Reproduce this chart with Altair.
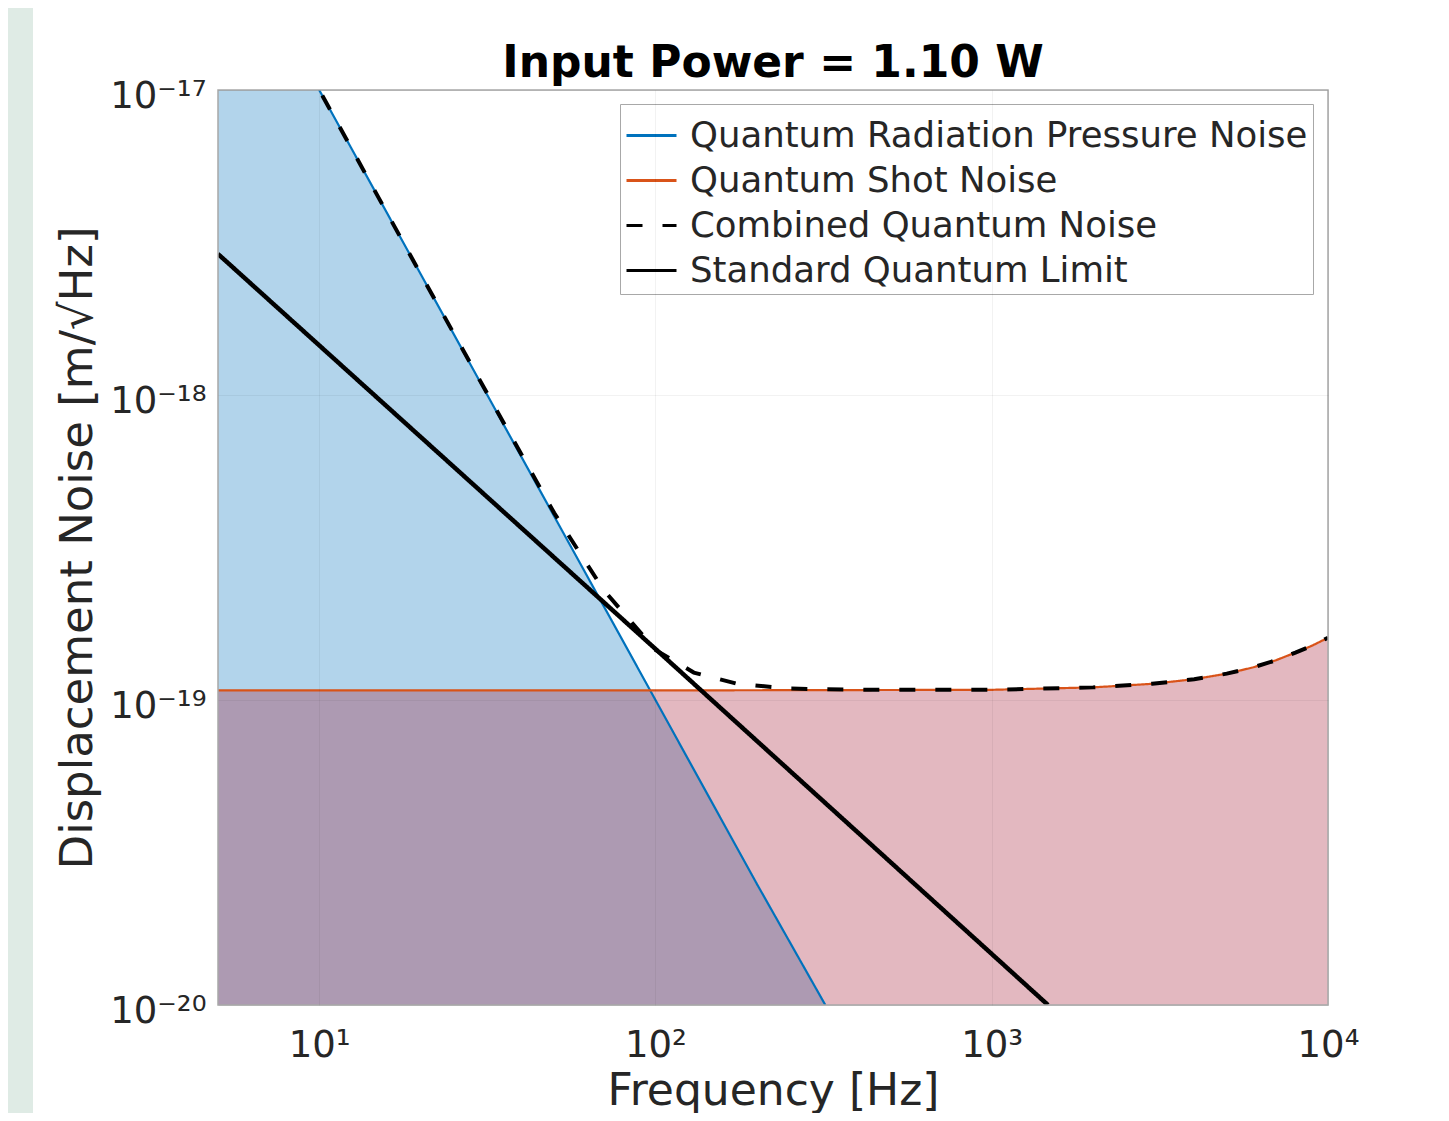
import altair as alt
import pandas as pd

# ---- data ----
freq_rp = [5, 10, 30, 100, 200, 320]
rp_noise = [4.0e-17, 1.0e-17, 1.11e-18, 1.0e-19, 2.5e-20, 1.0e-20]

freq_shot = [5, 10, 100, 1000, 2000, 3000, 4000, 5000, 6000, 7000, 8000, 9000, 10000]
shot_noise = [1.075e-19, 1.075e-19, 1.075e-19, 1.08e-19, 1.10e-19, 1.13e-19, 1.17e-19,
              1.22e-19, 1.28e-19, 1.35e-19, 1.43e-19, 1.51e-19, 1.60e-19]

freq_comb = [5, 10, 20, 30, 50, 70, 100, 130, 175, 250, 400, 1000, 2000, 3000, 4000,
             5000, 6000, 7000, 8000, 9000, 10000]
comb_noise = [4.0e-17, 1.0e-17, 2.5e-18, 1.12e-18, 4.1e-19, 2.3e-19, 1.46e-19, 1.23e-19,
              1.13e-19, 1.09e-19, 1.08e-19, 1.08e-19, 1.10e-19, 1.13e-19, 1.17e-19,
              1.22e-19, 1.28e-19, 1.35e-19, 1.43e-19, 1.51e-19, 1.60e-19]

freq_sql = [5, 100, 1470]
sql_noise = [2.9e-18, 1.47e-19, 1.0e-20]

series_names = ["Quantum Radiation Pressure Noise", "Quantum Shot Noise",
                "Combined Quantum Noise", "Standard Quantum Limit"]
series_colors = ["#0072BD", "#D95319", "#000000", "#000000"]
series_dashes = [[1, 0], [1, 0], [16, 20], [1, 0]]
series_widths = [2.2, 2.2, 4, 4.5]
x_ticks = [10, 100, 1000, 10000]
y_ticks = [1e-20, 1e-19, 1e-18, 1e-17]
y_floor = 1e-20

rows = []
for fs, vs, name in [(freq_rp, rp_noise, series_names[0]),
                     (freq_shot, shot_noise, series_names[1]),
                     (freq_comb, comb_noise, series_names[2]),
                     (freq_sql, sql_noise, series_names[3])]:
    for f, v in zip(fs, vs):
        rows.append({"f": f, "v": v, "series": name})
lines_df = pd.DataFrame(rows)
rp_df = pd.DataFrame({"f": freq_rp, "v": rp_noise})
shot_df = pd.DataFrame({"f": freq_shot, "v": shot_noise})
one = pd.DataFrame({"a": [0]})

W, H = 1110, 915
PAD_TOP = 82
FONT = "DejaVu Sans"

xscale = alt.Scale(type="log", domain=[5, 10000], nice=False)
yscale = alt.Scale(type="log", domain=[1e-20, 1e-17], nice=False)

xaxis = alt.Axis(values=x_ticks,
                 labelExpr="datum.value < 50 ? '10¹' : datum.value < 500 ? '10²' : datum.value < 5000 ? '10³' : '10⁴'",
                 title="Frequency [Hz]", ticks=False, domain=False, grid=True,
                 gridColor="#000000", gridOpacity=0.05, labelFontSize=37, labelPadding=22,
                 labelColor="#262626", titleFontSize=44, titleFontWeight="normal",
                 titleColor="#262626", titlePadding=6, labelFont=FONT, titleFont=FONT,
                 zindex=1, labelFlush=False)
yaxis = alt.Axis(values=y_ticks,
                 labelExpr="datum.value < 5e-20 ? '10⁻²⁰' : datum.value < 5e-19 ? '10⁻¹⁹' : datum.value < 5e-18 ? '10⁻¹⁸' : '10⁻¹⁷'",
                 title="Displacement Noise [m/√Hz]", ticks=False, domain=False, grid=True,
                 gridColor="#000000", gridOpacity=0.05, labelFontSize=37, labelPadding=12,
                 labelOffset=6,
                 labelColor="#262626", titleFontSize=45, titleFontWeight="normal",
                 titleColor="#262626", titlePadding=9, labelFont=FONT, titleFont=FONT,
                 zindex=1, labelFlush=False)

X = alt.X("f:Q", scale=xscale, axis=xaxis)
Y = alt.Y("v:Q", scale=yscale, axis=yaxis)

panel = alt.Chart(one).mark_rect(color="white", clip=False).encode(
    x=alt.value(-185), x2=alt.value(W + 200), y=alt.value(-PAD_TOP), y2=alt.value(H + 200))

area_rp = alt.Chart(rp_df).mark_area(color="#0072BD", opacity=0.3, clip=True).encode(
    x=X, y=Y, y2=alt.datum(y_floor))
area_shot = alt.Chart(shot_df).mark_area(color="#A2142F", opacity=0.3, clip=True).encode(
    x=X, y=Y, y2=alt.datum(y_floor))

color_enc = alt.Color("series:N", sort=series_names,
                      scale=alt.Scale(domain=series_names, range=series_colors),
                      legend=alt.Legend(title=None))
dash_enc = alt.StrokeDash("series:N", sort=series_names,
                          scale=alt.Scale(domain=series_names, range=series_dashes),
                          legend=alt.Legend(title=None))

line_layers = []
for name, w in zip(series_names, series_widths):
    line_layers.append(
        alt.Chart(lines_df).transform_filter(alt.datum.series == name)
        .mark_line(clip=True, strokeWidth=w)
        .encode(x=X, y=Y, color=color_enc, strokeDash=dash_enc, order=alt.Order("f:Q"))
    )

frame = alt.Chart(one).mark_rect(fillOpacity=0, stroke="#a8a8a8", strokeWidth=1.5, clip=False).encode(
    x=alt.value(0), x2=alt.value(W), y=alt.value(0), y2=alt.value(H))

chart = alt.layer(panel, area_rp, area_shot, *line_layers, frame).properties(
    width=W, height=H,
    title=alt.Title("Input Power = 1.10 W", fontSize=44, fontWeight="bold", font=FONT,
                    color="#000000", anchor="middle", frame="group", baseline="alphabetic",
                    offset=-113),
    padding={"left": 210, "top": PAD_TOP, "right": 100, "bottom": 108},
    autosize=alt.AutoSizeParams(type="none"),
    background="#dfebe5",
).configure_view(strokeWidth=0).configure_legend(
    orient="none", legendX=402, legendY=14, fillColor="white", strokeColor="#a8a8a8",
    padding=5, labelFontSize=35.5, labelFont=FONT, labelColor="#262626",
    symbolType="stroke", symbolSize=2500, symbolStrokeWidth=3, rowPadding=-6,
    labelOffset=12, labelLimit=1000,
)

chart.save("out.html", embed_options={"renderer": "svg", "actions": False})
